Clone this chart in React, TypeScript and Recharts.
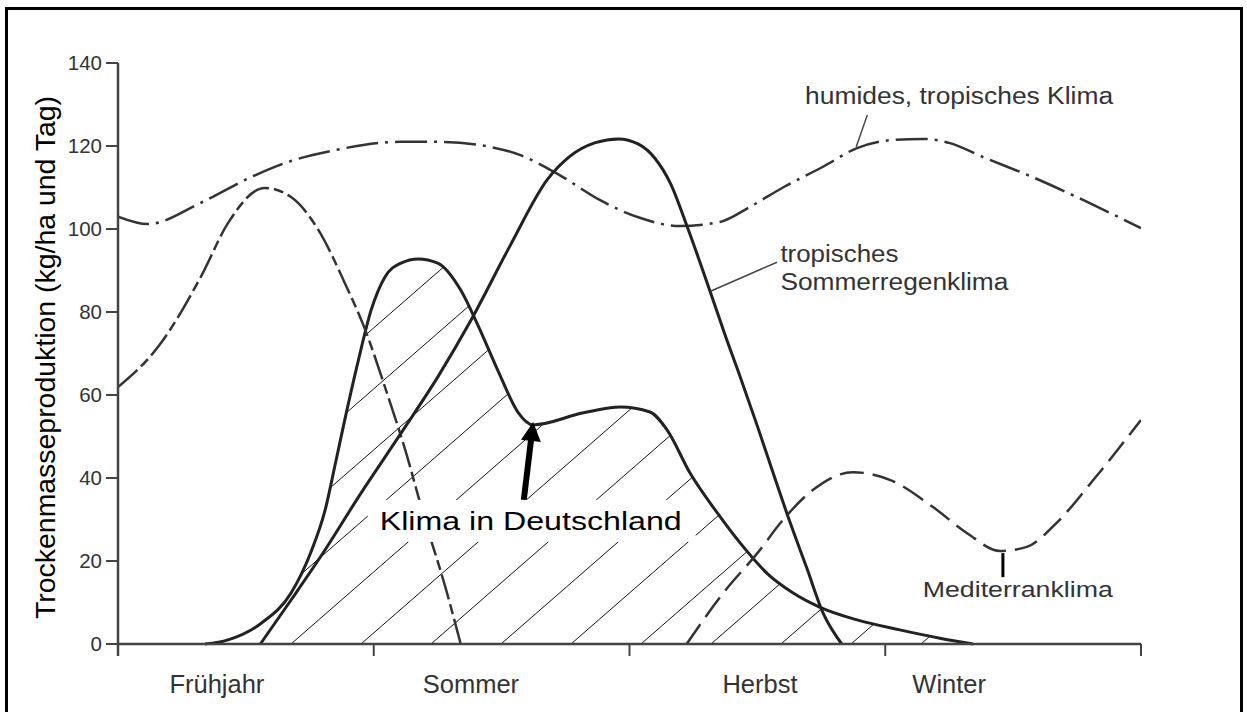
import React from 'react';
import {
  ComposedChart,
  Line,
  Area,
  XAxis,
  YAxis,
  ReferenceLine,
  ReferenceDot,
} from 'recharts';

const FONT = '"Liberation Sans", Arial, Helvetica, sans-serif';

// x unit: months from start of "Frühjahr" (0) to end of "Winter" (12)
const seasonTicks = [0, 3, 6, 9, 12];
const seasonLabels = ['Frühjahr', 'Sommer', 'Herbst', 'Winter'];
const seasonLabelPos = [1.16, 4.14, 7.53, 9.75];
const yTicks = [0, 20, 40, 60, 80, 100, 120, 140];

type Pt = [number, number];

const humidTropical: Pt[] = [
  [0, 103], [0.35, 101.2], [0.97, 106.3], [1.56, 112.5], [2.03, 116.4], [2.52, 118.9],
  [3.31, 121], [3.78, 121], [4.25, 120.2], [4.72, 117.8], [5.18, 113], [5.65, 107],
  [6.12, 102.7], [6.59, 100.7], [7.06, 101.7], [7.41, 105.3], [7.8, 110], [8.27, 115],
  [8.67, 119.5], [9.06, 121.4], [9.44, 121.7], [9.76, 120.7], [10.15, 117.3],
  [10.73, 112.5], [11.32, 107], [12, 100.2],
];

const mediterranSpring: Pt[] = [
  [0, 61.9], [0.47, 71.6], [0.97, 88.4], [1.29, 101.4], [1.72, 109.9], [2.03, 107.7],
  [2.35, 99.8], [2.66, 87], [2.9, 75.7], [3.13, 62], [3.37, 46.7], [3.6, 29.9],
  [3.84, 13.7], [4.02, 0],
];

const germany: Pt[] = [
  [1.02, 0], [1.29, 1], [1.68, 5], [2.03, 12.3], [2.26, 22], [2.43, 32.3], [2.55, 43.5],
  [2.66, 54], [2.82, 68.4], [2.97, 80.5], [3.13, 88.4], [3.32, 91.8], [3.52, 92.8],
  [3.75, 91.8], [4.02, 85.3], [4.22, 76.9], [4.48, 64.8], [4.69, 55.9], [4.87, 52.8],
  [5.46, 55.7], [5.89, 57.1], [6.24, 55.9], [6.44, 51.6], [6.71, 41.2], [7.03, 31.6],
  [7.3, 24.3], [7.61, 17.1], [7.92, 12.3], [8.23, 8.9], [8.67, 5.8], [9.17, 3.4],
  [9.64, 1.4], [10.03, 0],
];

const summerRain: Pt[] = [
  [1.67, 0], [2.03, 10.6], [2.43, 22.7], [2.82, 35.4], [3.32, 50.8], [3.75, 64.3],
  [4.14, 78], [4.6, 96], [5.04, 112], [5.3, 117.5], [5.6, 120.8], [5.87, 121.7],
  [6.1, 120.5], [6.3, 117], [6.48, 111], [6.69, 99.8], [6.97, 83.5], [7.12, 74.5],
  [7.3, 64.3], [7.5, 52.5], [7.68, 41.5], [7.88, 29.5], [8.08, 18.3], [8.27, 7.5],
  [8.49, 0],
];

const mediterranAutumn: Pt[] = [
  [6.67, 0], [7.1, 12.3], [7.5, 21.9], [7.8, 29.9], [8.15, 37.1], [8.62, 41.4],
  [9.06, 39.5], [9.56, 33], [9.96, 26.7], [10.35, 22.4], [10.66, 23.4], [11.01, 29.2],
  [11.44, 39.5], [12, 54],
];

function mergeSeries(series: Record<string, Pt[]>) {
  const map = new Map<number, any>();
  for (const [key, pts] of Object.entries(series)) {
    for (const [x, y] of pts) {
      if (!map.has(x)) map.set(x, { m: x });
      map.get(x)[key] = y;
    }
  }
  return Array.from(map.values()).sort((a, b) => a.m - b.m);
}

const tableData = mergeSeries({
  humid: humidTropical,
  medSpring: mediterranSpring,
  germany,
  summer: summerRain,
  medAutumn: mediterranAutumn,
});

const SeasonTick = (props: any) => {
  const { x, y, payload } = props;
  const idx = seasonLabelPos.indexOf(payload.value);
  return (
    <text x={x} y={y + 29} textAnchor="middle" fontSize={25.5} fill="#333" fontFamily={FONT}>
      {seasonLabels[idx]}
    </text>
  );
};

const renderYLabel = (props: any) => {
  const vb = props.viewBox || { x: 58, y: 63, width: 60, height: 581 };
  const cx = vb.x - 3;
  const cy = vb.y + vb.height / 2 + 4;
  return (
    <text
      transform={`translate(${cx},${cy}) rotate(-90)`}
      textAnchor="middle"
      fontSize={28}
      textLength={523}
      lengthAdjust="spacingAndGlyphs"
      fill="#000"
      fontFamily={FONT}
    >
      Trockenmasseproduktion (kg/ha und Tag)
    </text>
  );
};

const noteShape = (text: string, size: number, width: number, color = '#333') => (p: any) => (
  <text
    x={p.cx}
    y={p.cy}
    fontSize={size}
    textLength={width}
    lengthAdjust="spacingAndGlyphs"
    fill={color}
    fontFamily={FONT}
  >
    {text}
  </text>
);

const germanyNote = (p: any) => (
  <g>
    <rect x={p.cx - 12} y={p.cy - 30} width={328} height={42} fill="#fff" />
    <text
      x={p.cx}
      y={p.cy}
      fontSize={25}
      textLength={302}
      lengthAdjust="spacingAndGlyphs"
      fill="#000"
      fontFamily={FONT}
    >
      Klima in Deutschland
    </text>
  </g>
);

const arrowShape = (p: any) => {
  const { x1, y1, x2, y2 } = p;
  const dx = x2 - x1;
  const dy = y2 - y1;
  const len = Math.sqrt(dx * dx + dy * dy) || 1;
  const ux = dx / len;
  const uy = dy / len;
  const headLen = 19;
  const headHalf = 10;
  const bx = x2 - ux * headLen;
  const by = y2 - uy * headLen;
  const px = -uy;
  const py = ux;
  return (
    <g>
      <line x1={x1} y1={y1} x2={bx + ux * 2} y2={by + uy * 2} stroke="#000" strokeWidth={6} />
      <polygon
        points={`${x2},${y2} ${bx + px * headHalf},${by + py * headHalf} ${bx - px * headHalf},${by - py * headHalf}`}
        fill="#000"
      />
    </g>
  );
};

export default function App() {
  return (
    <div
      style={{
        position: 'absolute',
        left: 0,
        top: 0,
        width: 1247,
        height: 712,
        background: '#fff',
        overflow: 'hidden',
      }}
    >
      <div
        style={{
          position: 'absolute',
          left: 5,
          top: 7,
          width: 1238,
          height: 800,
          border: '3px solid #000',
          boxSizing: 'border-box',
        }}
      />
      <div style={{ position: 'absolute', left: 0, top: 0 }}>
        <ComposedChart
          width={1247}
          height={712}
          data={tableData}
          margin={{ top: 63, right: 106, bottom: 8, left: 58 }}
        >
          <defs>
            <pattern id="hatch" patternUnits="userSpaceOnUse" x={50} y={0} width={70} height={61}>
              <path
                d="M0,61 L70,0 M-10,8.7 L10,-8.7 M60,69.7 L80,52.3"
                stroke="#111"
                strokeWidth={1}
              />
            </pattern>
          </defs>
          <XAxis
            xAxisId="main"
            type="number"
            dataKey="m"
            domain={[0, 12]}
            ticks={seasonTicks}
            interval={0}
            tickFormatter={() => ''}
            height={20}
            tickSize={12}
            axisLine={{ stroke: '#444', strokeWidth: 2.5 }}
            tickLine={{ stroke: '#444', strokeWidth: 2 }}
            allowDataOverflow
          />
          <XAxis
            xAxisId="seasons"
            type="number"
            dataKey="m"
            domain={[0, 12]}
            ticks={seasonLabelPos}
            interval={0}
            height={40}
            tickSize={0}
            tickMargin={0}
            axisLine={false}
            tickLine={false}
            tick={<SeasonTick />}
            allowDataOverflow
          />
          <YAxis
            type="number"
            domain={[0, 140]}
            ticks={yTicks}
            interval={0}
            width={60}
            tickSize={12}
            tickMargin={4}
            axisLine={{ stroke: '#444', strokeWidth: 2.5 }}
            tickLine={{ stroke: '#444', strokeWidth: 2 }}
            tick={{ fontSize: 20.5, fill: '#333', fontFamily: FONT }}
            label={{ content: renderYLabel }}
          />
          <Area
            xAxisId="main"
            type="monotone"
            dataKey="germany"
            stroke="#222"
            strokeWidth={3}
            fill="url(#hatch)"
            fillOpacity={1}
            connectNulls
            dot={false}
            activeDot={false}
            isAnimationActive={false}
          />
          <Line
            xAxisId="main"
            type="monotone"
            dataKey="humid"
            stroke="#333"
            strokeWidth={2.5}
            strokeDasharray="32 7 3 7"
            connectNulls
            dot={false}
            activeDot={false}
            isAnimationActive={false}
          />
          <Line
            xAxisId="main"
            type="monotone"
            dataKey="medSpring"
            stroke="#333"
            strokeWidth={2.5}
            strokeDasharray="26 5 10 5"
            connectNulls
            dot={false}
            activeDot={false}
            isAnimationActive={false}
          />
          <Line
            xAxisId="main"
            type="monotone"
            dataKey="summer"
            stroke="#222"
            strokeWidth={3}
            connectNulls
            dot={false}
            activeDot={false}
            isAnimationActive={false}
          />
          <Line
            xAxisId="main"
            type="monotone"
            dataKey="medAutumn"
            stroke="#333"
            strokeWidth={2.5}
            strokeDasharray="24 9"
            connectNulls
            dot={false}
            activeDot={false}
            isAnimationActive={false}
          />
          <ReferenceLine
            xAxisId="main"
            segment={[{ x: 0, y: 0 }, { x: 0, y: -2.9 }]}
            stroke="#444"
            strokeWidth={2.5}
            ifOverflow="visible"
          />
          <ReferenceLine
            xAxisId="main"
            segment={[{ x: 8.79, y: 127.5 }, { x: 8.66, y: 119.8 }]}
            stroke="#444"
            strokeWidth={1.5}
            ifOverflow="visible"
          />
          <ReferenceLine
            xAxisId="main"
            segment={[{ x: 6.95, y: 85 }, { x: 7.73, y: 92 }]}
            stroke="#444"
            strokeWidth={1.5}
            ifOverflow="visible"
          />
          <ReferenceLine
            xAxisId="main"
            segment={[{ x: 10.38, y: 21.9 }, { x: 10.38, y: 16.1 }]}
            stroke="#000"
            strokeWidth={3}
            ifOverflow="visible"
          />
          <ReferenceDot xAxisId="main" x={8.06} y={130.1} r={1} ifOverflow="visible"
            shape={noteShape('humides, tropisches Klima', 23, 308)} />
          <ReferenceDot xAxisId="main" x={7.77} y={92.0} r={1} ifOverflow="visible"
            shape={noteShape('tropisches', 23, 118)} />
          <ReferenceDot xAxisId="main" x={7.77} y={85.3} r={1} ifOverflow="visible"
            shape={noteShape('Sommerregenklima', 23, 228)} />
          <ReferenceDot xAxisId="main" x={9.44} y={11.3} r={1} ifOverflow="visible"
            shape={noteShape('Mediterranklima', 22, 190)} />
          <ReferenceDot xAxisId="main" x={3.07} y={27.5} r={1} ifOverflow="visible"
            shape={germanyNote} />
          <ReferenceLine
            xAxisId="main"
            segment={[{ x: 4.76, y: 34.7 }, { x: 4.87, y: 53.5 }]}
            ifOverflow="visible"
            shape={arrowShape}
          />
        </ComposedChart>
      </div>
    </div>
  );
}
